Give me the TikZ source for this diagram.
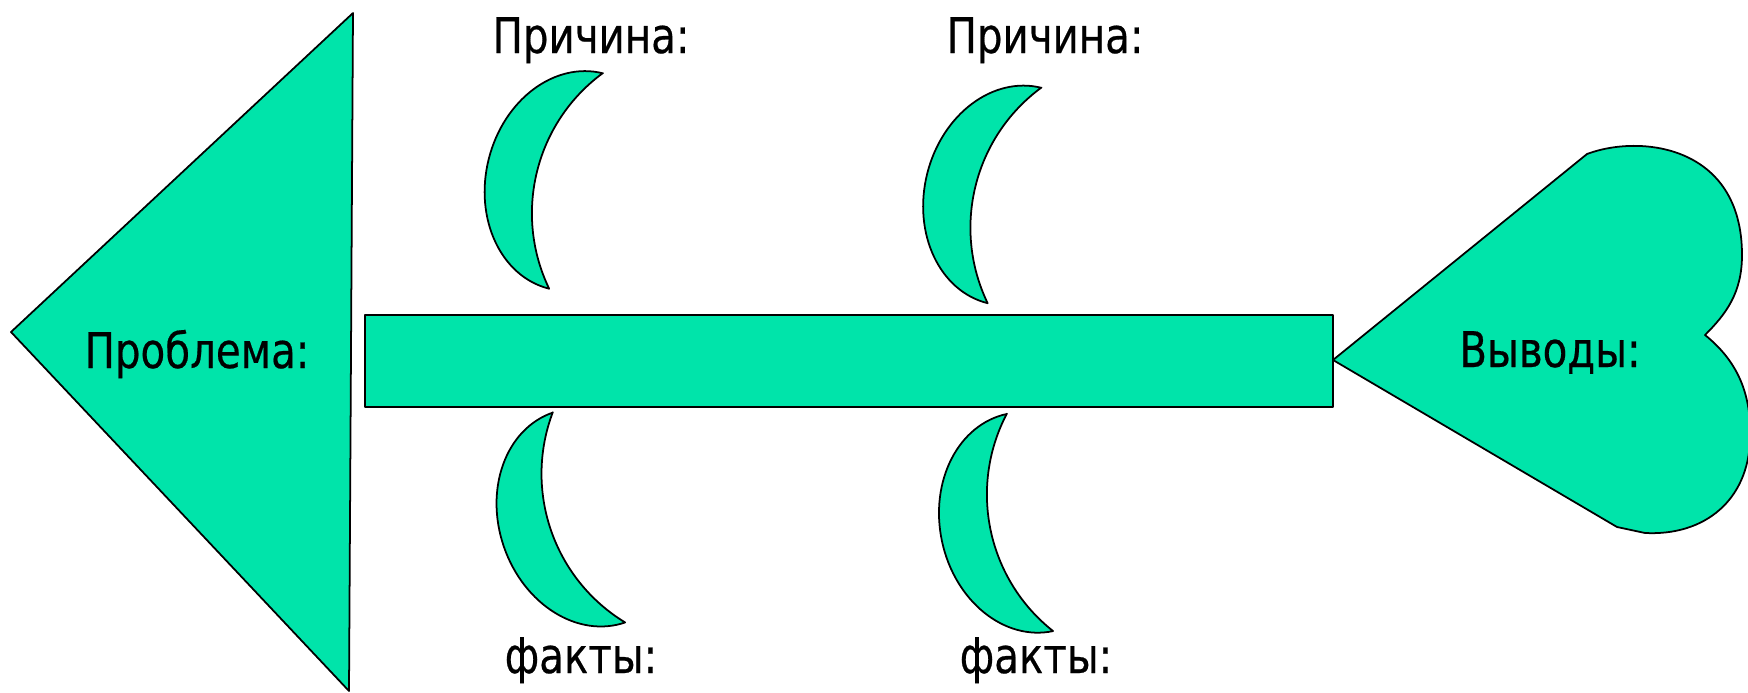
\documentclass[tikz,border=0pt]{standalone}
\usepackage{fontspec}
\setmainfont{DejaVu Sans}[FakeStretch=0.82, FakeBold=0.4]
\usepackage{xcolor}
\usepackage{tikz}
\definecolor{fishgreen}{RGB}{0,228,170}
\tikzset{
  fishbody/.style={fill=fishgreen, draw=black, line width=1pt, line join=round},
  lbl/.style={anchor=base, inner sep=0pt, font=\fontsize{28}{34}\selectfont},
  crescent/.pic={
    \path[fishbody] (0,-111)
      arc[start angle=270, end angle=90, x radius=90, y radius=111]
      arc[start angle=140.3, end angle=219.7, radius=174] -- cycle;
  }
}

\begin{document}
\begin{tikzpicture}[x=0.02cm, y=-0.02cm]
  \useasboundingbox (0,0) rectangle (1748,693);
  \begin{scope}
  \clip (0,0) rectangle (1748,693);
  % head
  \path[fishbody] (353,13) -- (11,332) -- (349,691) -- cycle;
  % spine
  \path[fishbody] (365,315) rectangle (1333,407);
  % tail
  \path[fishbody] (1333,360) -- (1587,154)
    .. controls (1640,134) and (1742,145) .. (1742,255)
    .. controls (1742,293) and (1726,314) .. (1705,335)
    .. controls (1736,360) and (1752,392) .. (1750,440)
    .. controls (1748,500) and (1705,536) .. (1645,533)
    -- (1617,527) -- cycle;
  % bones
  \pic[rotate=-14] at (576,181) {crescent};
  \pic[rotate=-14] at (1014.5,195.5) {crescent};
  \pic[rotate=19] at (589,517.5) {crescent};
  \pic[rotate=12] at (1030,522.5) {crescent};
  \end{scope}
  % labels
  \node[lbl] (problem) at (197,368) {Проблема:};
  \node[lbl] (result) at (1550,367) {Выводы:};
  \node[lbl] (cause1) at (591,53) {Причина:};
  \node[lbl] (cause2) at (1045,53) {Причина:};
  \node[lbl] (fact1) at (581,673) {факты:};
  \node[lbl] (fact2) at (1036,673) {факты:};
\end{tikzpicture}
\end{document}
